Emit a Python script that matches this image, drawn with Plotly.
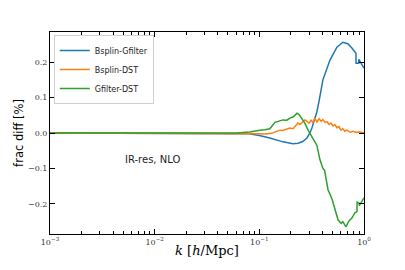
import plotly.graph_objects as go

# Bsplin-Gfilter
k_blue = [0.001, 0.06, 0.08, 0.1, 0.126, 0.168, 0.21, 0.235, 0.26, 0.285, 0.304, 0.318, 0.355, 0.372,
          0.405, 0.472, 0.551, 0.628, 0.70, 0.766, 0.838, 0.840, 0.89, 0.892, 1.0]
v_blue = [0, 0, -0.002, -0.007, -0.014, -0.025, -0.030, -0.029, -0.024, -0.014, 0.0, 0.014, 0.06, 0.09,
          0.15, 0.205, 0.242, 0.256, 0.252, 0.240, 0.225, 0.197, 0.197, 0.208, 0.183]

# Bsplin-DST
k_orange = [0.001, 0.06, 0.081, 0.097, 0.113, 0.131, 0.144, 0.158, 0.168, 0.180, 0.196, 0.210, 0.224,
            0.234, 0.244, 0.256, 0.272, 0.285, 0.298, 0.312, 0.325, 0.340, 0.355, 0.372, 0.389, 0.405,
            0.425, 0.444, 0.463, 0.484, 0.505, 0.527, 0.551, 0.576, 0.601, 0.628, 0.656, 0.685, 0.737,
            0.786, 0.838, 0.915, 1.0]
v_orange = [0, 0, 0.0, -0.002, -0.003, -0.001, 0.004, 0.008, 0.007, 0.010, 0.014, 0.012, 0.022,
            0.028, 0.024, 0.030, 0.037, 0.033, 0.028, 0.036, 0.030, 0.042, 0.031, 0.040, 0.033, 0.038,
            0.030, 0.032, 0.024, 0.028, 0.020, 0.024, 0.015, 0.018, 0.008, 0.012, 0.005, 0.008, 0.002,
            0.005, 0.002, 0.003, 0.001]

# Gfilter-DST
k_green = [0.001, 0.06, 0.081, 0.09, 0.101, 0.113, 0.126, 0.141, 0.155, 0.168, 0.183, 0.196, 0.21,
           0.22, 0.229, 0.24, 0.25, 0.262, 0.272, 0.292, 0.325, 0.355, 0.379, 0.405, 0.42, 0.453, 0.493,
           0.527, 0.565, 0.604, 0.628, 0.672, 0.718, 0.766, 0.820, 0.857, 0.859, 0.90, 0.902, 1.0]
v_green = [0, 0, 0.003, 0.006, 0.008, 0.009, 0.012, 0.030, 0.034, 0.037, 0.036, 0.042, 0.045,
           0.050, 0.056, 0.052, 0.045, 0.037, 0.028, 0.008, -0.018, -0.035, -0.075, -0.10, -0.105, -0.16, -0.185,
           -0.215, -0.245, -0.255, -0.25, -0.265, -0.248, -0.24, -0.225, -0.222, -0.195, -0.198, -0.205, -0.183]

x_ticks = [0.001, 0.01, 0.1, 1]
x_ticktext = ["10<sup>\u22123</sup>", "10<sup>\u22122</sup>", "10<sup>\u22121</sup>", "10<sup>0</sup>"]
x_minor = [m * d for d in [0.001, 0.01, 0.1] for m in range(2, 10)]
y_ticks = [-0.2, -0.1, 0.0, 0.1, 0.2]
y_ticktext = ["\u22120.2", "\u22120.1", "0.0", "0.1", "0.2"]

fig = go.Figure()
fig.add_trace(go.Scatter(x=k_blue, y=v_blue, mode="lines", name="Bsplin-Gfilter",
                         line=dict(color="#1f77b4", width=1.5)))
fig.add_trace(go.Scatter(x=k_orange, y=v_orange, mode="lines", name="Bsplin-DST",
                         line=dict(color="#ff7f0e", width=1.5)))
fig.add_trace(go.Scatter(x=k_green, y=v_green, mode="lines", name="Gfilter-DST",
                         line=dict(color="#2ca02c", width=1.5)))

fig.add_annotation(x=-2.016, y=-0.076, xref="x", yref="y", text="IR-res, NLO", showarrow=False,
                   font=dict(family="DejaVu Sans", size=10, color="#222"))

axis_common = dict(showline=True, linecolor="black", linewidth=1, mirror="ticks", ticks="inside",
                   showgrid=False, zeroline=False, tickcolor="black", automargin=False,
                   tickfont=dict(family="DejaVu Serif", size=8, color="#333"))

fig.update_xaxes(type="log", range=[-3, 0], tickvals=x_ticks, ticktext=x_ticktext, ticklen=5,
                 minor=dict(tickvals=x_minor, ticks="inside", ticklen=3, tickcolor="black", showgrid=False),
                 title=dict(text="<i>k</i> [<i>h</i>/Mpc]", font=dict(family="DejaVu Serif", size=13, color="black"),
                            standoff=0),
                 **axis_common)
fig.update_yaxes(range=[-0.285, 0.285], tickvals=y_ticks, ticktext=y_ticktext, ticklen=5,
                 title=dict(text="frac diff [%]", font=dict(family="DejaVu Sans", size=11.5, color="black"),
                            standoff=1),
                 **axis_common)

fig.update_layout(width=405, height=270, margin=dict(l=42, r=49, t=24, b=44),
                  paper_bgcolor="white", plot_bgcolor="white",
                  legend=dict(x=0.012, y=0.985, xanchor="left", yanchor="top",
                              bgcolor="rgba(255,255,255,0.8)", bordercolor="#d0d0d0", borderwidth=1,
                              font=dict(family="DejaVu Sans", size=8, color="#222"),
                              itemwidth=30, tracegroupgap=0))

fig.write_html("out.html")
